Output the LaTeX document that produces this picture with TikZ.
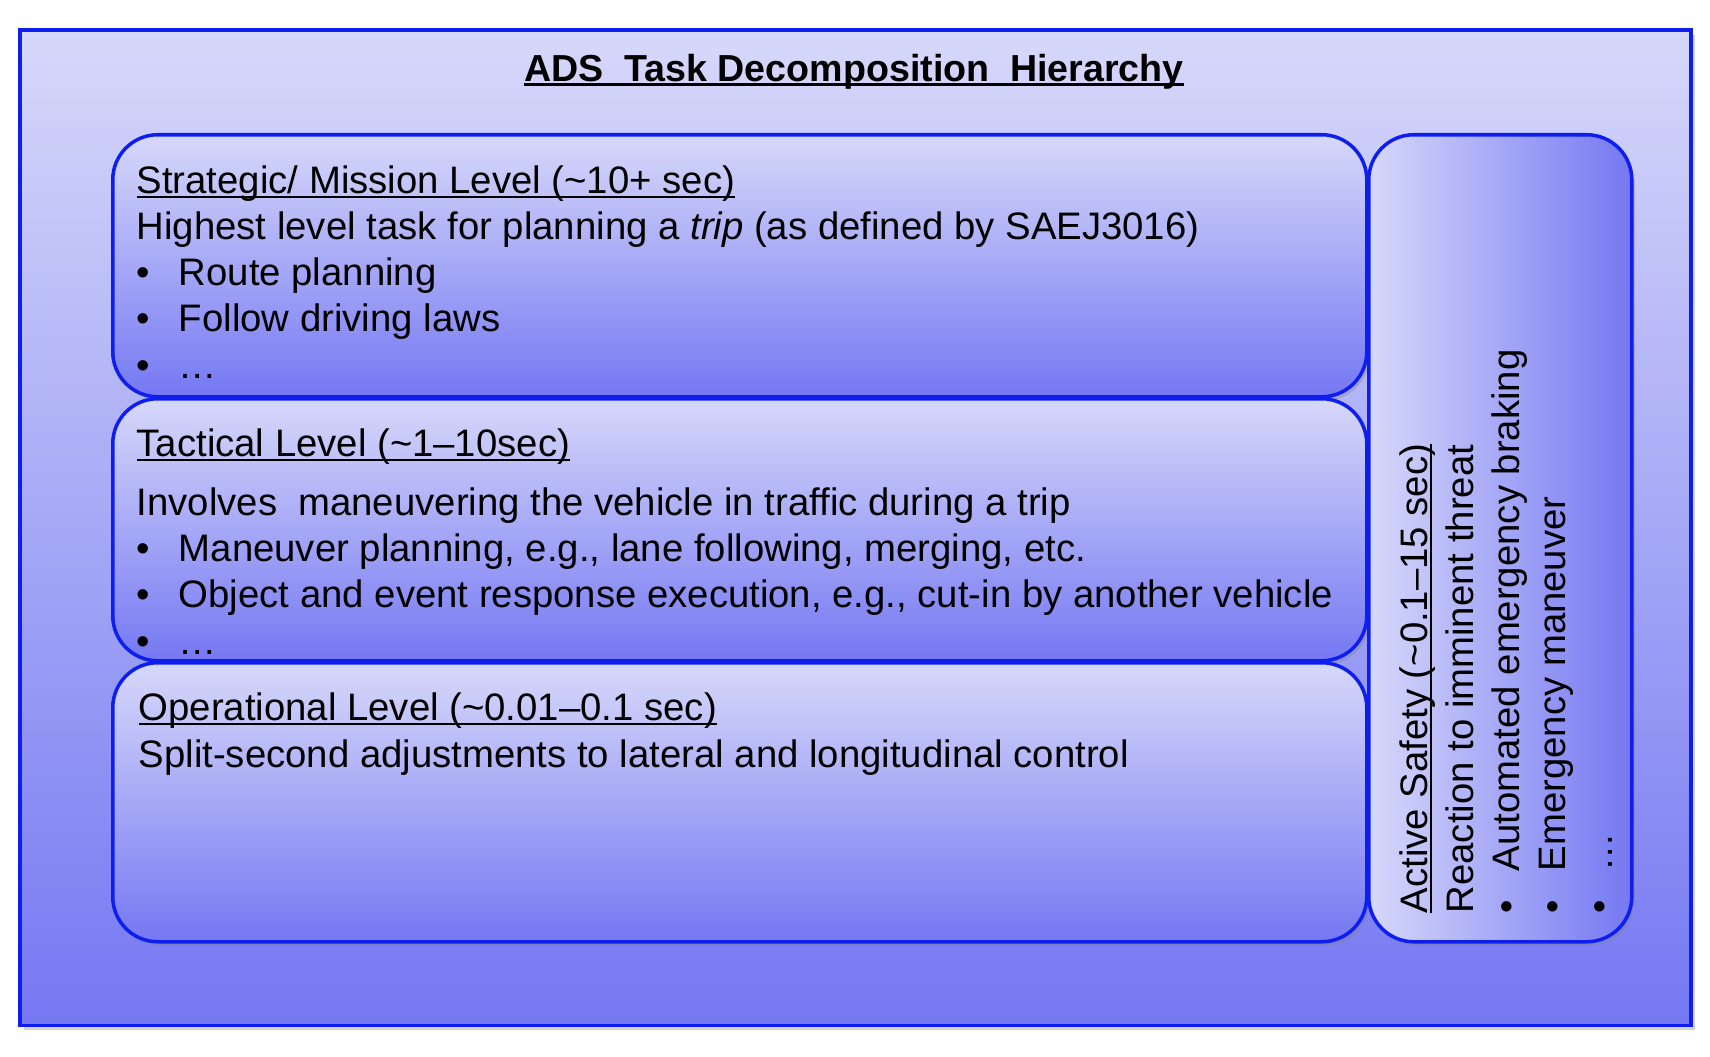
\documentclass[tikz,border=0pt]{standalone}
\usepackage{fontspec}
\setmainfont{Liberation Sans}
\usetikzlibrary{shadows}
\definecolor{boxlight}{RGB}{214,216,250}
\definecolor{boxdark}{RGB}{117,120,242}
\definecolor{framelight}{RGB}{214,216,250}
\definecolor{framedark}{RGB}{117,120,242}
\definecolor{edgeblue}{RGB}{14,30,238}
\newcommand{\undl}[2][0.055em]{\setbox0=\hbox{#2}\rlap{\rule[-0.11em]{\wd0}{#1}}\box0}
\newcommand{\itm}[1]{\makebox[1.1em][l]{•}#1}
\begin{document}
\begin{tikzpicture}[
  levelbox/.style={draw=edgeblue, line width=1pt, rounded corners=0.45cm, anchor=north west, inner sep=0pt,
    top color=boxlight, bottom color=boxdark,
    drop shadow={shadow xshift=0.03cm, shadow yshift=-0.04cm, opacity=0.35}},
  leveltext/.style={anchor=base west, align=left, inner sep=0pt, font=\fontsize{10.9}{13.1}\selectfont}
]
\useasboundingbox (0,0) rectangle (17.10,10.56);
% outer frame
\node[draw=edgeblue, line width=1pt, anchor=south west, inner sep=0pt, minimum width=16.71cm, minimum height=9.95cm,
  top color=framelight, bottom color=framedark,
  drop shadow={shadow xshift=0.04cm, shadow yshift=-0.05cm, opacity=0.35}] (frame) at (0.18,0.29) {};
\node[anchor=base, inner sep=0pt, font=\bfseries\fontsize{10.7}{13}\selectfont] (title) at (8.54,9.74)
  {\undl[0.08em]{ADS\ \ Task Decomposition\ \ Hierarchy}};
% level boxes
\node[levelbox, minimum width=12.54cm, minimum height=2.62cm] (strategic) at (1.11,9.23) {};
\node[levelbox, minimum width=12.54cm, minimum height=2.62cm] (tactical) at (1.11,6.59) {};
\node[levelbox, minimum width=12.54cm, minimum height=2.79cm] (operational) at (1.11,3.95) {};
\node[levelbox, minimum width=2.63cm, minimum height=8.07cm, left color=boxlight, right color=boxdark] (safety) at (13.67,9.23) {};
% texts (anchored at the baseline of their last line)
\node[leveltext] (strategictext) at (1.36,6.78) {\undl{Strategic/ Mission Level (\textasciitilde10+ sec)}\\
  Highest level task for planning a \textit{trip} (as defined by SAEJ3016)\\
  \itm{Route planning}\\
  \itm{Follow driving laws}\\
  \itm{…}};
\node[leveltext] (tacticaltext) at (1.36,4.02) {\undl{Tactical Level (\textasciitilde1–10sec)}\\[0.13cm]
  Involves\ \ maneuvering the vehicle in traffic during a trip\\
  \itm{Maneuver planning, e.g., lane following, merging, etc.}\\
  \itm{Object and event response execution, e.g., cut-in by another vehicle}\\
  \itm{…}};
\node[leveltext] (operationaltext) at (1.38,2.89) {\undl{Operational Level (\textasciitilde0.01–0.1 sec)}\\
  Split-second adjustments to lateral and longitudinal control};
\node[leveltext, rotate=90] (safetytext) at (16.12,1.42) {\undl{Active Safety (\textasciitilde0.1–15 sec)}\\
  Reaction to imminent threat\\
  \itm{Automated emergency braking}\\
  \itm{Emergency maneuver}\\
  \itm{…}};
\end{tikzpicture}
\end{document}
